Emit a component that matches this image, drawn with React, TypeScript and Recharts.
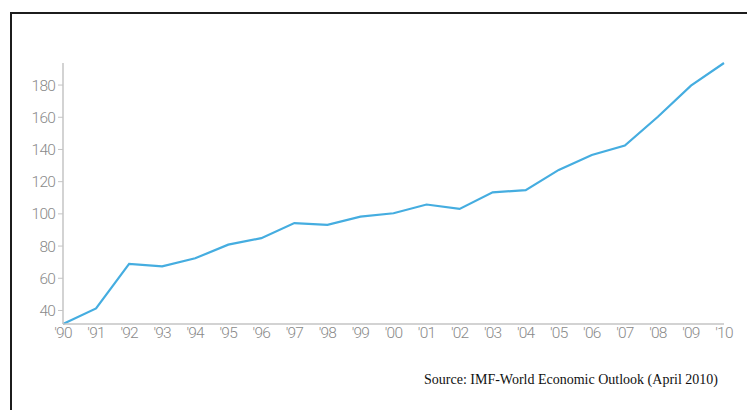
import React from "react";
import { LineChart, Line, XAxis, YAxis } from "recharts";

// Years on the horizontal axis
const years: string[] = [
  "'90", "'91", "'92", "'93", "'94", "'95", "'96", "'97", "'98", "'99",
  "'00", "'01", "'02", "'03", "'04", "'05", "'06", "'07", "'08", "'09", "'10",
];

// Index values per year
const values: number[] = [
  31.6, 41.3, 69.0, 67.4, 72.4, 80.9, 84.9, 94.3, 93.2, 98.3,
  100.4, 105.8, 103.1, 113.4, 114.7, 127.3, 136.6, 142.4, 160.3, 179.6, 193.7,
];

const yTicks: number[] = [40, 60, 80, 100, 120, 140, 160, 180];

const sourceNote = "Source: IMF-World Economic Outlook (April 2010)";

const data = years.map((year, i) => ({ year, value: values[i] }));

const tickStyle = {
  fill: "#8a8a8a",
  fontSize: 15.5,
  fontFamily: "Roboto, 'Noto Sans', sans-serif",
  fontWeight: 300,
  letterSpacing: -0.8,
};

export default function App() {
  return (
    <div
      style={{
        position: "absolute",
        left: 0,
        top: 0,
        width: 747,
        height: 410,
        overflow: "hidden",
        background: "#ffffff",
      }}
    >
      <div
        style={{
          position: "absolute",
          left: 10,
          top: 12,
          width: 737,
          height: 398,
          borderTop: "2px solid #1c1c1c",
          borderLeft: "2px solid #1c1c1c",
          boxSizing: "border-box",
        }}
      />
      <div style={{ position: "absolute", left: 0, top: 0 }}>
        <LineChart
          width={747}
          height={410}
          data={data}
          margin={{ top: 63, right: 23, bottom: 56, left: 18 }}
        >
          <XAxis
            dataKey="year"
            interval={0}
            tickLine={false}
            tickSize={0}
            tickMargin={3}
            height={30}
            axisLine={{ stroke: "#c4c4c4", strokeWidth: 1.5 }}
            tick={tickStyle}
          />
          <YAxis
            type="number"
            domain={[(min: number) => min, (max: number) => max]}
            ticks={yTicks}
            width={45}
            tickSize={5}
            tickMargin={3}
            axisLine={{ stroke: "#c4c4c4", strokeWidth: 1.5 }}
            tickLine={{ stroke: "#c4c4c4" }}
            tick={tickStyle}
          />
          <Line
            type="linear"
            dataKey="value"
            stroke="#45ade0"
            strokeWidth={2.2}
            dot={false}
            isAnimationActive={false}
          />
        </LineChart>
      </div>
      <div
        style={{
          position: "absolute",
          left: 424,
          top: 372,
          fontFamily: "'Liberation Serif', 'Times New Roman', serif",
          fontSize: 14,
          color: "#111111",
          whiteSpace: "nowrap",
        }}
      >
        {sourceNote}
      </div>
    </div>
  );
}
